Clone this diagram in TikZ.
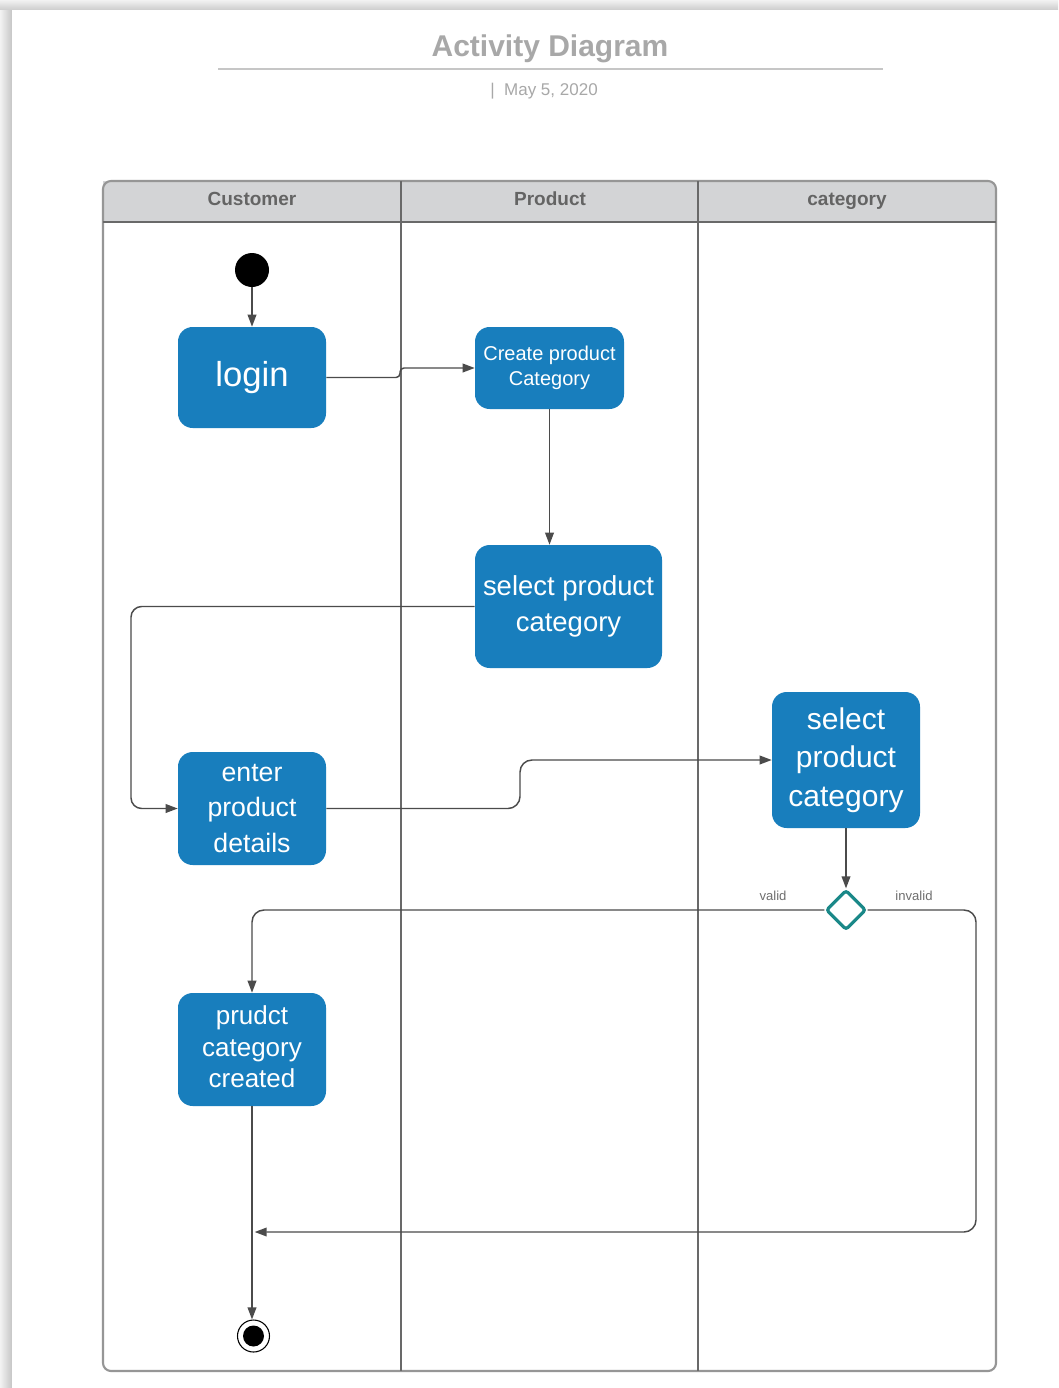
\documentclass[tikz,border=0pt]{standalone}
\usepackage{fontspec}
\setmainfont{Liberation Sans}
\usetikzlibrary{arrows.meta,shapes.geometric}

% one unit = one pixel of the page (0.75pt), y grows downwards
\newcommand\pxu{0.75pt}
\newcommand\fs[2]{\fontsize{#1}{#2}\selectfont}

\definecolor{actblue}{RGB}{24,126,189}
\definecolor{laneline}{RGB}{105,105,105}
\definecolor{outline}{RGB}{150,150,150}
\definecolor{headfill}{RGB}{211,212,214}
\definecolor{headtext}{RGB}{100,100,100}
\definecolor{titlegray}{RGB}{168,168,168}
\definecolor{connc}{RGB}{75,75,75}
\definecolor{teal}{RGB}{26,136,136}

\tikzset{
  activity/.style={fill=actblue, text=white, draw=none, rounded corners=11pt,
    align=center, inner sep=0pt},
  conn/.style={draw=connc, line width=1.1pt, -{Triangle[length=9pt,width=6.5pt]}},
  lanehead/.style={text=headtext, font=\bfseries\fs{14.25pt}{17pt},
    text height=10.5pt, text depth=3pt},
  guardlabel/.style={text=connc!80, font=\fs{9.8pt}{12pt}},
}

\begin{document}
\begin{tikzpicture}[x=\pxu, y=-\pxu]
\useasboundingbox (0,0) rectangle (1058,1388);

% page with its drop shadow
\fill[gray!14] (0,0) rectangle (1058,1388);
\shade[left color=gray!10, right color=gray!45] (0,0) rectangle (12,1388);
\shade[top color=gray!10, bottom color=gray!40] (0,0) rectangle (1058,10);
\fill[white] (12,10) rectangle (1058,1388);

% title block
\node[text=titlegray, font=\bfseries\fs{22.5pt}{26pt}] (title) at (550,48.5) {Activity Diagram};
\draw[draw=gray!45, line width=1pt] (218,69) -- (883,69);
\node[text=titlegray, font=\fs{12.75pt}{15pt}] (date) at (544,91) {|\ \ May 5, 2020};

% swimlanes
\fill[headfill] (103,222) -- (103,181) [rounded corners=6pt] -- (996,181) [sharp corners] -- (996,222) -- cycle;
\draw[outline, line width=1.6pt, rounded corners=6pt] (103,181) rectangle (996,1371);
\draw[laneline, line width=1.2pt] (103,222) -- (996,222);
\draw[laneline, line width=1.2pt] (401,181) -- (401,1371);
\draw[laneline, line width=1.2pt] (698,181) -- (698,1371);
\node[lanehead] (hcust) at (252,200) {Customer};
\node[lanehead] (hprod) at (550,200) {Product};
\node[lanehead] (hcat)  at (847,200) {category};

% activities
\node[activity, minimum width=148*\pxu, minimum height=101*\pxu, font=\fs{26pt}{30pt}]
  (login) at (252,377.5) {login};
\node[activity, minimum width=149*\pxu, minimum height=82*\pxu, font=\fs{15pt}{18.5pt}]
  (create) at (549.5,368) {Create product\\Category};
\node[activity, minimum width=187*\pxu, minimum height=123*\pxu, font=\fs{20.6pt}{27pt}]
  (selp) at (568.5,606.5) {select product\\category};
\node[activity, minimum width=148*\pxu, minimum height=113*\pxu, font=\fs{20pt}{26.6pt}]
  (enter) at (252,808.5) {enter\\product\\details};
\node[activity, minimum width=148*\pxu, minimum height=136*\pxu, font=\fs{22.5pt}{29pt}]
  (selc) at (846,760) {select\\product\\category};
\node[activity, minimum width=148*\pxu, minimum height=113*\pxu, font=\fs{19.5pt}{24.4pt}]
  (created) at (252,1049.5) {\raisebox{2pt}{\begin{tabular}{@{}c@{}}prudct\\[-0.5pt]category\\[-0.5pt]created\end{tabular}}};

% control nodes
\node[circle, fill=black, minimum size=34*\pxu, inner sep=0pt] (start) at (252,270) {};
\node[diamond, draw=teal, fill=white, line width=2.4pt, rounded corners=2pt,
  minimum size=40*\pxu, inner sep=0pt] (dec) at (846,910) {};
\node[circle, draw=black, fill=white, line width=0.8pt, minimum size=32*\pxu, inner sep=0pt] (end) at (253.5,1336) {};
\fill[black] (end.center) circle (10.5);
\coordinate (merge) at (252,1232);

% flows
\draw[conn] (start) -- (login);
\draw[conn, rounded corners=3pt] (login.east) -- (400,377.5) -- (400,368) -- (create.west);
\draw[conn] (create.south) -- (create.south |- selp.north);
\draw[conn, rounded corners=8pt] (selp.west) -- (131,606.5) -- (131,808.5) -- (enter.west);
\draw[conn, rounded corners=9pt] (enter.east) -- (520,808.5) -- (520,760) -- (selc.west);
\draw[conn] (selc.south) -- (dec.north);
\draw[conn, rounded corners=9pt] (dec.west) -| (created.north);
\draw[conn, rounded corners=9pt] (dec.east) -- (976,910) -- (976,1232) -- ([xshift=2]merge);
\draw[conn] (created.south) -- (created.south |- end.north);

% guard labels
\node[guardlabel] (lvalid) at (773,896) {valid};
\node[guardlabel] (linvalid) at (914,896) {invalid};
\end{tikzpicture}
\end{document}
